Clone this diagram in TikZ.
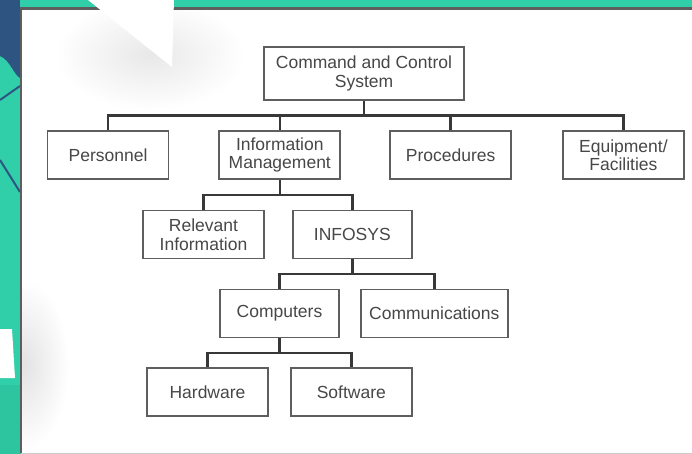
\documentclass[tikz,border=0pt]{standalone}
\usepackage{fontspec}
\setmainfont{Liberation Sans}
\usepackage{tikz}
\usetikzlibrary{positioning,calc}

\definecolor{tealbg}{HTML}{30CFA9}
\definecolor{navybg}{HTML}{2E5482}
\definecolor{inkgray}{HTML}{474747}
\definecolor{busgray}{HTML}{383838}
\definecolor{boxgray}{HTML}{5E5E5E}

\begin{document}
\begin{tikzpicture}[x=1pt,y=-1pt,line join=miter,
                    font=\fontsize{17.5}{18.5}\selectfont]
  \tikzstyle{box}=[draw=boxgray,line width=1.8pt,fill=white,text=inkgray,
                   align=center,minimum width=121pt,minimum height=48pt,
                   inner sep=2pt]
  \tikzstyle{bus}=[draw=busgray,line width=2.4pt,
                   to path={(\tikztostart.south)
                            |- ($(\tikztostart.south)!.5!(\tikztotarget.north)$)
                            -| (\tikztotarget.north)}]

  \useasboundingbox (0,0) rectangle (692,454);

  % backdrop
  \fill[tealbg] (0,0) rectangle (692,454);
  \fill[navybg] (0,0) rectangle (20,56);
  \fill[navybg] (0,56) .. controls (10,60) and (14,75) .. (20,78) -- (20,56) -- cycle;
  \draw[navybg,line width=2pt] (0,100) -- (20,86);
  \draw[navybg,line width=2pt] (0,160) -- (20,192);
  \fill[tealbg!85!black,opacity=.35] (0,385) rectangle (20,454);
  \fill[white] (0,329) -- (12,329) -- (15,378) -- (0,378) -- cycle;

  % panel
  \fill[white] (21,8) rectangle (692,454);
  \begin{scope}
    \clip (21,8) rectangle (692,454);
    \shade[inner color=gray!22,outer color=white] (24,365) ellipse (45 and 85);
    \shade[inner color=gray!18,outer color=white] (150,55) ellipse (95 and 55);
  \end{scope}
  \draw[boxgray,line width=2.5pt] (21,453) -- (21,8.5) -- (692,8.5);
  \draw[gray!40,line width=1pt] (21,453.5) -- (692,453.5);
  \fill[white] (88,0) -- (174,0) -- (172,67) -- cycle;

  % chart
  \node[box,minimum width=200pt,minimum height=53pt] (ccs) at (364,73.5)
       {Command and Control\\System};

  \node[box] (pers) at (108,155) {Personnel};
  \node[box] (info) [right=49pt of pers] {Information\\Management};
  \node[box] (proc) [right=48pt of info] {Procedures};
  \node[box] (equip) [right=50pt of proc] {Equipment/\\Facilities};

  \node[box] (relv) at (203.5,234.5) {Relevant\\Information};
  \node[box,minimum width=119pt] (infosys) [right=27pt of relv] {INFOSYS};

  \node[box,minimum width=119pt] (comp) at (279.5,313.5) {Computers};
  \node[box,minimum width=147pt] (comm) [right=20pt of comp] {Communications};

  \node[box] (hard) at (207.5,392) {Hardware};
  \node[box] (soft) [right=21pt of hard] {Software};

  \path (ccs) edge [bus] (pers)
              edge [bus] (info)
              edge [bus] (proc)
              edge [bus] (equip)
        (info) edge [bus] (relv)
               edge [bus] (infosys)
        (infosys) edge [bus] (comp)
                  edge [bus] (comm)
        (comp) edge [bus] (hard)
               edge [bus] (soft);
\end{tikzpicture}
\end{document}
